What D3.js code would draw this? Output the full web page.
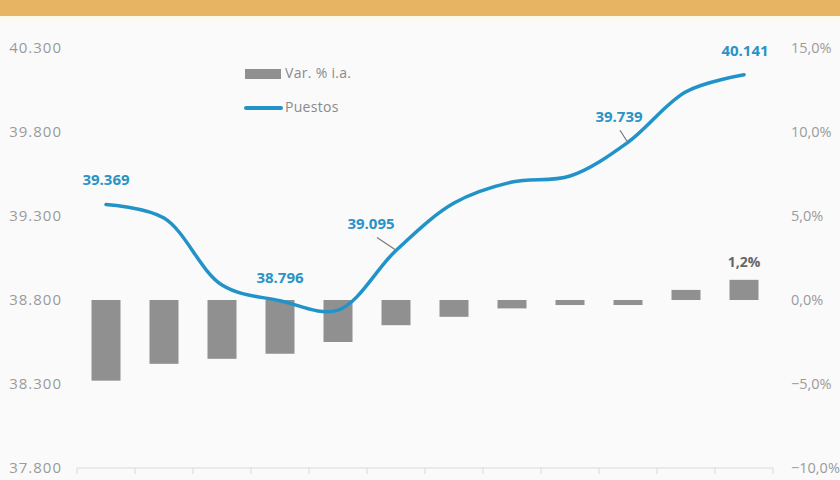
<!DOCTYPE html>
<html><head><meta charset="utf-8">
<script src="https://cdn.jsdelivr.net/npm/d3@7"></script>
<style>
html,body{margin:0;padding:0;background:#fafafa;}
svg{display:block;font-family:"Open Sans",sans-serif;}
</style></head>
<body>
<svg id="chart" width="840" height="480"></svg>
<script>
const categories = ["1","2","3","4","5","6","7","8","9","10","11","12"];
const puestos = [39369, 39288, 38889, 38796, 38740, 39095, 39377, 39502, 39538, 39739, 40040, 40141];
const varIA = [-4.8, -3.8, -3.5, -3.2, -2.5, -1.5, -1.0, -0.5, -0.3, -0.3, 0.6, 1.2];
const leftTicks = [37800, 38300, 38800, 39300, 39800, 40300];
const rightTicks = [-10, -5, 0, 5, 10, 15];
const labeledPoints = [0, 3, 5, 9, 11];
const legendLabels = ["Var. % i.a.", "Puestos"];

const svg = d3.select("#chart");
const W = 840, H = 480;
const m = {left: 77, right: 67, top: 48, bottom: 12};

svg.append("rect").attr("width", W).attr("height", H).attr("fill", "#fafafa");
const grad = svg.append("defs").append("linearGradient").attr("id","g").attr("x1",0).attr("x2",0).attr("y1",0).attr("y2",1);
grad.append("stop").attr("offset","0").attr("stop-color","#fdf8e6");
grad.append("stop").attr("offset","1").attr("stop-color","#fafafa");
svg.append("rect").attr("x",0).attr("y",15).attr("width",W).attr("height",8).attr("fill","url(#g)");
svg.append("rect").attr("x",0).attr("y",0).attr("width",W).attr("height",16).attr("fill","#e6b462");

const x = d3.scaleBand().domain(categories).range([m.left, W - m.right]).paddingInner(0.5).paddingOuter(0.25);
const yL = d3.scaleLinear().domain([37800, 40300]).range([H - m.bottom, m.top]);
const yR = d3.scaleLinear().domain([-10, 15]).range([H - m.bottom, m.top]);

const fmtL = d3.formatLocale({decimal: ",", thousands: ".", grouping: [3], currency: ["", ""]});
const fL = fmtL.format(",.0f");
const fR = v => fmtL.format(".1f")(v) + "%";

// left axis labels
const axL = svg.append("g").attr("transform", `translate(62,0)`)
  .call(d3.axisLeft(yL).tickValues(leftTicks).tickFormat(fL).tickSize(0).tickPadding(0));
axL.select(".domain").remove();
axL.selectAll("text").attr("fill", "#9a9a9a").style("font-size", "15px").style("letter-spacing", "1px").attr("font-family", "Open Sans");

const axR = svg.append("g").attr("transform", `translate(791,0)`)
  .call(d3.axisRight(yR).tickValues(rightTicks).tickFormat(fR).tickSize(0).tickPadding(0));
axR.select(".domain").remove();
axR.selectAll("text").attr("fill", "#9a9a9a").style("font-size", "14.5px").style("letter-spacing", "0px").attr("font-family", "Open Sans");

// bottom axis line with ticks between categories
const ax = svg.append("g");
ax.append("line").attr("x1", m.left).attr("x2", W - m.right).attr("y1", yL(37800)).attr("y2", yL(37800))
  .attr("stroke", "#d9d9d9").attr("stroke-width", 1);
const tickXs = d3.range(categories.length + 1).map(i => m.left + i * (W - m.left - m.right) / categories.length);
ax.selectAll("line.t").data(tickXs).join("line").attr("class","t")
  .attr("x1", d => d).attr("x2", d => d).attr("y1", yL(37800)).attr("y2", yL(37800) + 6)
  .attr("stroke", "#d9d9d9");

// bars
svg.append("g").selectAll("rect").data(varIA).join("rect")
  .attr("x", (d, i) => x(categories[i]))
  .attr("width", x.bandwidth())
  .attr("y", d => yR(Math.max(0, d)))
  .attr("height", d => Math.abs(yR(d) - yR(0)))
  .attr("fill", "#909090");

// line
const line = d3.line().x((d, i) => x(categories[i]) + x.bandwidth() / 2).y(d => yL(d)).curve(d3.curveCatmullRom.alpha(0.5));
svg.append("path").datum(puestos).attr("d", line).attr("fill", "none")
  .attr("stroke", "#2193c9").attr("stroke-width", 3.5).attr("stroke-linecap", "round");

// data labels
const cx = i => x(categories[i]) + x.bandwidth() / 2;
const labelOffsets = {0: [0, -23], 3: [0, -22], 5: [-25, -25], 9: [-9, -24], 11: [1, -23]};
labeledPoints.forEach(i => {
  const [dx, dy] = labelOffsets[i];
  svg.append("text").attr("x", cx(i) + dx).attr("y", yL(puestos[i]) + dy)
    .attr("text-anchor", "middle").attr("dominant-baseline", "middle")
    .attr("fill", "#2a93c6").style("font-size", "15px").style("font-weight", "bold")
    .text(fL(puestos[i]));
});
// leader lines
[[5, -19, -13], [9, -8, -12]].forEach(([i, dx, dy]) => {
  svg.append("line").attr("x1", cx(i) + dx).attr("y1", yL(puestos[i]) + dy)
    .attr("x2", cx(i) - 1).attr("y2", yL(puestos[i]) - 1)
    .attr("stroke", "#777").attr("stroke-width", 1.2);
});
// bar label for last
const li = varIA.length - 1;
svg.append("text").attr("x", cx(li)).attr("y", yR(varIA[li]) - 17)
  .attr("text-anchor", "middle").attr("dominant-baseline", "middle")
  .attr("fill", "#666").style("font-size", "14px").style("font-weight", "bold")
  .text(fmtL.format(".1f")(varIA[li]) + "%");

// legend
const lg = svg.append("g");
lg.append("rect").attr("x", 245).attr("y", 69).attr("width", 36).attr("height", 10).attr("fill", "#909090");
lg.append("text").attr("x", 285).attr("y", 74).attr("dominant-baseline", "middle")
  .attr("fill", "#8a8a8a").style("font-size", "14px").style("letter-spacing", "0.3px").text(legendLabels[0]);
lg.append("line").attr("x1", 246).attr("x2", 281).attr("y1", 108).attr("y2", 108)
  .attr("stroke", "#2193c9").attr("stroke-width", 4).attr("stroke-linecap", "round");
lg.append("text").attr("x", 285).attr("y", 108).attr("dominant-baseline", "middle")
  .attr("fill", "#8a8a8a").style("font-size", "14px").style("letter-spacing", "0.3px").text(legendLabels[1]);
</script>
</body></html>
